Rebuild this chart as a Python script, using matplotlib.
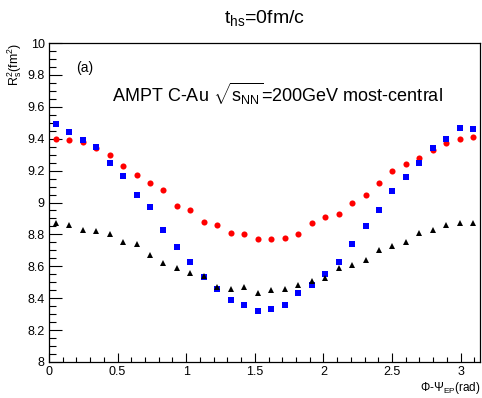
import numpy as np
import matplotlib
matplotlib.use("Agg")
import matplotlib.pyplot as plt
from matplotlib.ticker import MultipleLocator, FormatStrFormatter

plt.rcParams['font.family'] = ['Liberation Sans', 'DejaVu Sans']
plt.rcParams['mathtext.fontset'] = 'custom'
plt.rcParams['mathtext.rm'] = 'Liberation Sans'
plt.rcParams['mathtext.it'] = 'Liberation Sans:italic'
plt.rcParams['mathtext.bf'] = 'Liberation Sans:bold'

n_bins = 32
phi = (np.arange(n_bins) + 0.5) * np.pi / n_bins

red = [9.40, 9.39, 9.38, 9.34, 9.30, 9.23, 9.17, 9.12, 9.08, 8.98, 8.95, 8.88,
       8.86, 8.81, 8.80, 8.77, 8.77, 8.78, 8.80, 8.87, 8.91, 8.93, 9.00, 9.05,
       9.12, 9.20, 9.24, 9.28, 9.33, 9.37, 9.40, 9.41]
blue = [9.49, 9.44, 9.39, 9.35, 9.25, 9.165, 9.05, 8.97, 8.83, 8.72, 8.63, 8.53,
        8.46, 8.39, 8.36, 8.32, 8.33, 8.36, 8.43, 8.48, 8.55, 8.63, 8.74, 8.85,
        8.95, 9.07, 9.16, 9.25, 9.34, 9.40, 9.47, 9.46]
black = [8.87, 8.86, 8.83, 8.82, 8.80, 8.75, 8.74, 8.67, 8.62, 8.59, 8.56, 8.54,
         8.47, 8.46, 8.47, 8.43, 8.45, 8.46, 8.48, 8.51, 8.525, 8.59, 8.61, 8.64,
         8.70, 8.725, 8.75, 8.81, 8.83, 8.86, 8.87, 8.87]

W, H = 482, 398
fig = plt.figure(figsize=(W / 100, H / 100), dpi=100)
left, right, top, bottom = 49, 480, 43, 362
ax = fig.add_axes([left / W, 1 - bottom / H, (right - left) / W, (bottom - top) / H])

ax.plot(phi, red, 'o', color='#ff0000', markersize=4.4, markeredgewidth=0)
ax.plot(phi, blue, 's', color='#0000ff', markersize=4.6, markeredgewidth=0)
ax.plot(phi, black, '^', color='black', markersize=4.6, markeredgewidth=0)

ax.set_xlim(0, np.pi)
ax.set_ylim(8, 10)

ax.xaxis.set_major_locator(MultipleLocator(0.5))
ax.xaxis.set_minor_locator(MultipleLocator(0.1))
ax.yaxis.set_major_locator(MultipleLocator(0.2))
ax.yaxis.set_minor_locator(MultipleLocator(0.05))
ax.xaxis.set_major_formatter(FormatStrFormatter('%g'))
ax.yaxis.set_major_formatter(FormatStrFormatter('%g'))

ax.tick_params(axis='both', which='both', direction='in', top=False, right=False,
               labelsize=9, colors='black', width=0.8)
ax.tick_params(axis='x', which='major', length=9.5 * 0.72, pad=3)
ax.tick_params(axis='x', which='minor', length=4.8 * 0.72)
ax.tick_params(axis='y', which='major', length=13 * 0.72, pad=3)
ax.tick_params(axis='y', which='minor', length=6.5 * 0.72)
for s in ax.spines.values():
    s.set_linewidth(0.9)

fig.text((left + right) / 2 / W, 1 - 18 / H, r't$_{\mathrm{hs}}$=0fm/c',
         ha='center', va='center', fontsize=14)
fig.text(76 / W, 1 - 68 / H, '(a)', ha='left', va='center', fontsize=10)
fig.text(112 / W, 1 - 102 / H,
         r'AMPT C-Au $\sqrt{\mathrm{s}_{\mathrm{NN}}}$=200GeV most-central',
         ha='left', va='baseline', fontsize=13)
fig.text(481 / W, 1 - 388 / H, r'$\Phi$-$\Psi_{\mathrm{EP}}$(rad)',
         ha='right', va='center', fontsize=8.5)
fig.text(15 / W, 1 - 43 / H, r'R$_{\mathrm{s}}^{2}$(fm$^{2}$)',
         ha='center', va='top', rotation=90, fontsize=9)

fig.savefig('out.png', dpi=100)
